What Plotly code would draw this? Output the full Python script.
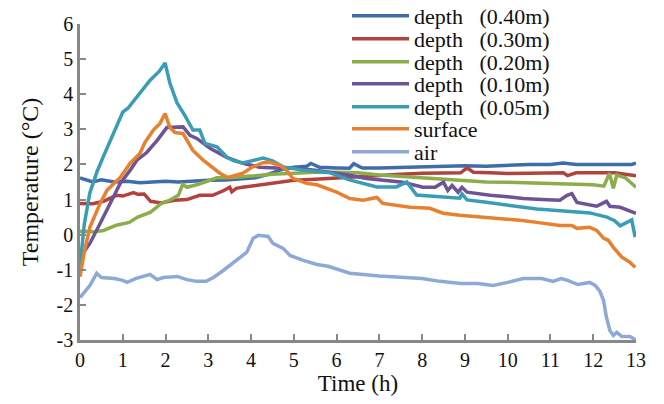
import plotly.graph_objects as go

# ---------------- data ----------------
t_d40 = [0, 0.15, 0.3, 0.5, 0.8, 1.1, 1.4, 1.7, 2.0, 2.3, 2.6, 3.0, 3.4, 3.8, 4.1, 4.4, 4.7, 5.0, 5.3, 5.4,
         5.6, 6.0, 6.3, 6.4, 6.6, 7.0, 7.5, 8.0, 8.5, 9.0, 9.5, 10.0, 10.5, 11.0, 11.3, 11.6, 12.0, 12.5, 12.9, 13.0]
v_d40 = [1.62, 1.55, 1.50, 1.56, 1.50, 1.52, 1.48, 1.50, 1.52, 1.50, 1.53, 1.55, 1.56, 1.58, 1.62, 1.72, 1.85, 1.92, 1.95, 2.03,
         1.92, 1.90, 1.89, 2.02, 1.90, 1.90, 1.92, 1.92, 1.95, 1.96, 1.95, 1.98, 2.00, 2.00, 2.04, 2.00, 2.00, 2.00, 2.00, 2.04]

t_d30 = [0, 0.3, 0.55, 0.85, 1.0, 1.25, 1.35, 1.5, 1.65, 1.9, 2.2, 2.5, 2.8, 3.1, 3.35, 3.5, 3.55, 3.65, 3.8, 4.1,
         4.5, 5.0, 5.5, 6.0, 6.5, 7.0, 7.5, 8.0, 8.5, 8.9, 9.05, 9.2, 9.6, 10.0, 10.5, 11.0, 11.3, 11.4, 11.6, 12.0, 12.5, 13.0]
v_d30 = [0.89, 0.88, 0.95, 1.12, 1.10, 1.20, 1.15, 1.16, 0.95, 0.90, 0.98, 1.00, 1.12, 1.12, 1.25, 1.35, 1.22, 1.32, 1.35, 1.40,
         1.48, 1.55, 1.58, 1.62, 1.65, 1.68, 1.72, 1.75, 1.75, 1.76, 1.90, 1.78, 1.76, 1.74, 1.75, 1.77, 1.76, 1.68, 1.76, 1.76, 1.76, 1.68]

t_d20 = [0, 0.3, 0.55, 0.85, 1.15, 1.35, 1.65, 1.9, 2.1, 2.3, 2.4, 2.5, 2.75, 3.05, 3.2, 3.5, 3.8, 4.1, 4.5, 5.0,
         5.5, 6.0, 6.5, 7.0, 7.5, 8.0, 8.5, 9.0, 9.5, 10.0, 10.5, 11.0, 11.5, 12.0, 12.25, 12.38, 12.47, 12.55, 12.75, 13.0]
v_d20 = [0.10, 0.08, 0.12, 0.27, 0.35, 0.50, 0.64, 0.89, 0.98, 1.12, 1.43, 1.35, 1.43, 1.55, 1.62, 1.62, 1.66, 1.68, 1.72, 1.75,
         1.78, 1.78, 1.76, 1.70, 1.66, 1.63, 1.60, 1.54, 1.50, 1.49, 1.47, 1.45, 1.43, 1.42, 1.38, 1.75, 1.32, 1.70, 1.62, 1.35]

t_d10 = [0, 0.23, 0.47, 0.7, 0.94, 1.17, 1.33, 1.56, 1.8, 2.03, 2.2, 2.41, 2.57, 2.73, 3.04, 3.43, 3.81, 4.2, 4.6, 5.07,
         5.54, 6.0, 6.31, 6.7, 7.08, 7.55, 8.02, 8.3, 8.45, 8.5, 8.6, 8.7, 8.84, 8.93, 9.05, 9.3, 9.59, 10.0, 10.36, 10.8,
         11.22, 11.39, 11.5, 11.62, 12.08, 12.31, 12.39, 12.63, 13.0]
v_d10 = [-0.65, -0.25, 0.32, 0.89, 1.46, 1.83, 2.12, 2.34, 2.68, 3.05, 3.05, 3.07, 2.83, 2.74, 2.46, 2.20, 2.03, 1.92, 1.90, 1.89,
         1.83, 1.76, 1.69, 1.60, 1.55, 1.49, 1.35, 1.35, 1.46, 1.49, 1.26, 1.40, 1.21, 1.35, 1.21, 1.16, 1.12, 1.08, 1.03, 1.00,
         0.98, 1.12, 1.17, 0.92, 0.81, 0.95, 0.81, 0.78, 0.61]

t_d05 = [0, 0.1, 0.23, 0.4, 0.54, 0.75, 1.0, 1.12, 1.4, 1.64, 1.85, 1.99, 2.1, 2.27, 2.45, 2.64, 2.8, 2.92, 3.2, 3.43,
         3.6, 3.81, 4.0, 4.28, 4.5, 4.75, 5.2, 5.6, 5.85, 6.3, 6.94, 7.4, 7.64, 7.87, 8.18, 8.42, 8.88, 8.93, 9.05, 9.5,
         9.98, 10.3, 10.68, 11.0, 11.46, 11.92, 12.32, 12.5, 12.63, 12.79, 12.9, 12.98]
v_d05 = [-0.92, 0.30, 1.19, 1.80, 2.21, 2.80, 3.49, 3.60, 4.05, 4.40, 4.65, 4.89, 4.32, 3.75, 3.40, 2.98, 2.98, 2.60, 2.50, 2.21,
         2.10, 2.04, 2.10, 2.18, 2.10, 1.93, 1.84, 1.78, 1.76, 1.56, 1.36, 1.36, 1.50, 1.13, 1.10, 1.07, 1.04, 1.16, 0.99, 0.92,
         0.84, 0.80, 0.73, 0.70, 0.65, 0.62, 0.50, 0.40, 0.25, 0.36, 0.42, -0.07]

t_surf = [0, 0.1, 0.23, 0.47, 0.63, 0.94, 1.17, 1.4, 1.52, 1.71, 1.87, 1.99, 2.1, 2.22, 2.41, 2.64, 2.88, 3.04, 3.27, 3.46,
          3.67, 3.81, 4.02, 4.28, 4.44, 4.68, 4.83, 4.98, 5.3, 5.54, 6.0, 6.31, 6.62, 6.94, 7.08, 7.48, 7.72, 8.18, 8.49, 8.88,
          9.59, 10.29, 10.68, 11.22, 11.5, 11.62, 11.92, 12.08, 12.24, 12.35, 12.47, 12.67, 12.86, 12.98]
v_surf = [-1.20, -0.50, 0.21, 0.89, 1.26, 1.63, 2.03, 2.31, 2.63, 2.97, 3.17, 3.45, 3.06, 2.91, 2.88, 2.40, 2.12, 1.97, 1.75, 1.63,
          1.69, 1.75, 1.92, 2.05, 2.06, 1.97, 1.83, 1.60, 1.46, 1.42, 1.21, 1.03, 0.98, 1.06, 0.89, 0.83, 0.78, 0.75, 0.61, 0.55,
          0.49, 0.41, 0.35, 0.26, 0.26, 0.18, 0.21, 0.12, -0.10, -0.16, -0.36, -0.64, -0.79, -0.93]

t_air = [0, 0.23, 0.39, 0.5, 0.8, 1.0, 1.1, 1.3, 1.64, 1.8, 1.95, 2.27, 2.5, 2.73, 2.95, 3.12, 3.35, 3.67, 3.9, 4.05,
         4.17, 4.4, 4.51, 4.75, 4.91, 5.22, 5.54, 5.8, 6.31, 7.0, 7.5, 8.0, 8.42, 8.9, 9.3, 9.66, 10.0, 10.36, 10.8, 11.06,
         11.25, 11.4, 11.64, 11.92, 12.05, 12.15, 12.24, 12.31, 12.39, 12.47, 12.55, 12.67, 12.86, 13.0]
v_air = [-1.79, -1.45, -1.10, -1.22, -1.25, -1.30, -1.36, -1.25, -1.13, -1.28, -1.22, -1.19, -1.28, -1.33, -1.33, -1.22, -1.02, -0.73, -0.50, -0.10,
         -0.02, -0.05, -0.25, -0.39, -0.59, -0.73, -0.85, -0.90, -1.10, -1.18, -1.22, -1.25, -1.33, -1.39, -1.39, -1.45, -1.36, -1.25, -1.25, -1.33,
         -1.25, -1.30, -1.42, -1.36, -1.45, -1.60, -1.87, -2.36, -2.73, -2.87, -2.78, -2.90, -2.90, -3.00]

series_names = ["depth\u00a0\u00a0\u00a0(0.40m)", "depth\u00a0\u00a0\u00a0(0.30m)", "depth\u00a0\u00a0\u00a0(0.20m)",
                "depth\u00a0\u00a0\u00a0(0.10m)", "depth\u00a0\u00a0\u00a0(0.05m)", "surface", "air"]
series_t = [t_d40, t_d30, t_d20, t_d10, t_d05, t_surf, t_air]
series_v = [v_d40, v_d30, v_d20, v_d10, v_d05, v_surf, v_air]
colors = ["#3F6DAA", "#B3423E", "#8BAD4A", "#6E5396", "#3A9DB6", "#E8812F", "#8EA9D6"]

x_ticks = list(range(0, 14))
y_ticks = list(range(-3, 7))

FONT = "Liberation Serif"

# ---------------- figure ----------------
fig = go.Figure()
# legend item centre positions (pixels from top of the page)
legend_px = [16, 39, 62, 84, 107, 129, 152]
PLOT_TOP, PLOT_H = 24, 316

layout_legends = {}
for i, (name, tt, vv, c) in enumerate(zip(series_names, series_t, series_v, colors)):
    lg = "legend" if i == 0 else f"legend{i+1}"
    fig.add_trace(go.Scatter(x=tt, y=vv, mode="lines", name=name,
                             line=dict(color=c, width=3.5), legend=lg))
    layout_legends[lg] = dict(
        x=(347 - 80) / 556, xanchor="left",
        y=1 - (legend_px[i] - PLOT_TOP) / PLOT_H, yanchor="middle",
        bgcolor="rgba(0,0,0,0)", borderwidth=0,
        font=dict(family=FONT, size=22, color="#111"),
        itemwidth=57, tracegroupgap=0,
    )

fig.update_layout(
    width=664, height=404,
    margin=dict(l=80, r=28, t=24, b=64, autoexpand=False),
    paper_bgcolor="white", plot_bgcolor="white",
    font=dict(family=FONT, size=20, color="#111"),
    showlegend=True,
    **layout_legends,
)

fig.update_xaxes(
    range=[0, 13], tickvals=x_ticks, ticktext=[str(v) for v in x_ticks],
    showgrid=False, zeroline=False, automargin=False,
    showline=True, linecolor="#888", linewidth=2.5,
    ticks="inside", ticklen=6, tickwidth=2, tickcolor="#888",
    tickfont=dict(family=FONT, size=20, color="#111"),
    title=dict(text="Time (h)", font=dict(family=FONT, size=23, color="#111"), standoff=4),
)
fig.update_yaxes(
    range=[-3, 6], tickvals=y_ticks, ticktext=[str(v) for v in y_ticks],
    showgrid=False, zeroline=False, automargin=False,
    showline=True, linecolor="#888", linewidth=2.5,
    ticks="inside", ticklen=6, tickwidth=2, tickcolor="#888",
    tickfont=dict(family=FONT, size=20, color="#111"),
    title=dict(text="Temperature (°C)", font=dict(family=FONT, size=24, color="#111"), standoff=12),
)

fig.write_html("out.html",
               config={"displayModeBar": False},
               post_script="document.body.style.margin='0';document.body.style.overflow='hidden';")
